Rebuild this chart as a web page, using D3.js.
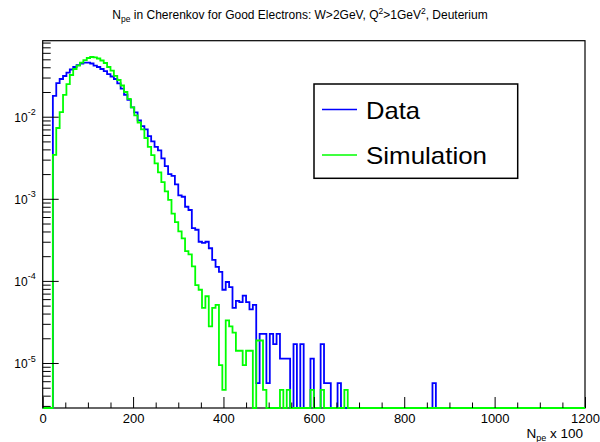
<!DOCTYPE html>
<html>
<head>
<meta charset="utf-8">
<script src="https://cdn.jsdelivr.net/npm/d3@7"></script>
<style>
  body { margin: 0; background: #fff; }
  svg { display: block; }
  text { font-family: "Liberation Sans", Arial, Helvetica, sans-serif; fill: #000; }
</style>
</head>
<body>
<svg id="chart" width="600" height="442"></svg>
<script>
// Histogram binning: 160 bins over 0..1200 (N_pe x 100)
const xRange = [0, 1200];
const binWidth = 7.5;
const nBins = 160;
const firstBin = 3;            // index of the first filled bin

// Normalised bin contents, starting at bin `firstBin`
const dataValues = [
  0.0179, 0.0257, 0.0288, 0.0313, 0.0345, 0.0376, 0.0403, 0.0426, 0.0445, 0.0457,
  0.0455, 0.0445, 0.0420, 0.0403, 0.0381, 0.0360, 0.0331, 0.0309, 0.0288, 0.0255,
  0.0220, 0.0185, 0.0160, 0.0130, 0.0113, 0.0090, 0.0077, 0.0070, 0.0058, 0.0050,
  0.0043, 0.0039, 0.0031, 0.0025, 0.0020, 0.0019, 0.0015, 0.0011, 0.00106, 0.00080,
  0.00073, 0.00044, 0.00042, 0.00030, 0.00029, 0.00030, 0.00025, 0.000180, 0.000148, 0.000129,
  7.8e-5, 9.7e-5, 8.4e-5, 4.7e-5, 5.7e-5, 5.5e-5, 6.6e-5, 5.5e-5, 4.5e-5, 5.1e-5,
  5.7e-6, 2.26e-5, 2.26e-5, 5.7e-6, 2.26e-5, 1.70e-5, 2.26e-5, 1.13e-5, 1.13e-5, 1.13e-5,
  0, 1.70e-5, 0, 1.70e-5, 0, 0, 1.13e-5, 0, 0, 1.70e-5,
  5.7e-6, 5.7e-6, 0, 0, 5.7e-6, 0, 0, 0, 0, 0,
  0, 0, 0, 0, 0, 0, 0, 0, 0, 0,
  0, 0, 0, 0, 0, 0, 0, 0, 0, 0,
  0, 0, 5.7e-6
];

const simValues = [
  0.00342, 0.00729, 0.0114, 0.0184, 0.0250, 0.0322, 0.0381, 0.0420, 0.0457, 0.0490,
  0.0519, 0.0534, 0.0529, 0.0512, 0.0484, 0.0451, 0.0403, 0.0365, 0.0315, 0.0280,
  0.0240, 0.0200, 0.0165, 0.0130, 0.0104, 0.0085, 0.0070, 0.0055, 0.0043, 0.0034,
  0.0027, 0.0021, 0.0016, 0.00123, 0.00097, 0.00066, 0.00052, 0.00040, 0.00033, 0.00023,
  0.00021, 0.000150, 8.9e-5, 7.8e-5, 4.7e-5, 6.5e-5, 2.8e-5, 4.7e-5, 5.1e-5, 9.4e-6,
  4.7e-6, 3.3e-5, 2.8e-5, 2.35e-5, 1.41e-5, 1.41e-5, 9.4e-6, 1.41e-5, 1.41e-5, 0,
  1.88e-5, 1.88e-5, 4.7e-6, 0, 0, 0, 0, 4.7e-6, 0, 4.7e-6,
  0, 0, 0, 0, 0, 0, 4.7e-6, 0, 0, 4.7e-6,
  0, 0, 0, 0, 0, 0, 4.7e-6
];

const seriesNames = ["Data", "Simulation"];
const seriesColors = ["#0000ff", "#00ff00"];

const xMajorTicks = [0, 200, 400, 600, 800, 1000, 1200];
const yDecades = [-5, -4, -3, -2];
const yDomain = [2.83e-6, 0.0843];

// ---- layout ----
const svg = d3.select("#chart");
const frame = { left: 42.7, right: 585, top: 40.7, bottom: 408 };

const x = d3.scaleLinear().domain(xRange).range([frame.left, frame.right]);
const y = d3.scaleLog().domain(yDomain).range([frame.bottom, frame.top]).clamp(true);

svg.append("defs").append("clipPath").attr("id", "plotClip")
  .append("rect")
  .attr("x", frame.left).attr("y", frame.top - 1)
  .attr("width", frame.right - frame.left).attr("height", frame.bottom - frame.top + 2);

// ---- frame ----
svg.append("rect")
  .attr("x", frame.left).attr("y", frame.top)
  .attr("width", frame.right - frame.left).attr("height", frame.bottom - frame.top)
  .attr("fill", "none").attr("stroke", "#000").attr("stroke-width", 1.2);

// ---- histograms (drawn over the frame, ticks on top) ----
function stepPoints(values) {
  const pts = [];
  for (let i = 0; i < nBins; i++) {
    const k = i - firstBin;
    const v = (k >= 0 && k < values.length) ? values[k] : 0;
    pts.push([i * binWidth, v], [(i + 1) * binWidth, v]);
  }
  return pts;
}
const histLine = d3.line()
  .x(d => x(d[0]))
  .y(d => y(Math.max(d[1], yDomain[0])));

const plot = svg.append("g").attr("clip-path", "url(#plotClip)");
[dataValues, simValues].forEach((vals, s) => {
  plot.append("path")
    .attr("d", histLine(stepPoints(vals)))
    .attr("fill", "none")
    .attr("stroke", seriesColors[s])
    .attr("stroke-width", 1.8)
    .attr("stroke-linejoin", "miter");
});

// ---- axes ----
const xMinor = d3.range(0, 1201, 50).filter(v => !xMajorTicks.includes(v));
svg.append("g").attr("transform", `translate(0,${frame.bottom})`)
  .call(d3.axisBottom(x).tickValues(xMinor).tickSize(-5.5).tickFormat(""))
  .call(g => g.select(".domain").remove())
  .call(g => g.selectAll("line").attr("stroke", "#000"));

svg.append("g").attr("transform", `translate(0,${frame.bottom})`)
  .call(d3.axisBottom(x).tickValues(xMajorTicks).tickSize(-11).tickPadding(5.3).tickFormat(d3.format("d")))
  .call(g => g.select(".domain").remove())
  .call(g => g.selectAll("line").attr("stroke", "#000"))
  .call(g => g.selectAll("text").attr("font-size", 13).attr("font-family", "Liberation Sans, Arial, sans-serif"));

const yMinor = [];
for (let e = -6; e <= -2; e++) {
  for (let m = 2; m <= 9; m++) {
    const v = m * Math.pow(10, e);
    if (v >= yDomain[0] && v <= yDomain[1]) yMinor.push(v);
  }
}
svg.append("g").attr("transform", `translate(${frame.left},0)`)
  .call(d3.axisLeft(y).tickValues(yMinor).tickSize(-8).tickFormat(""))
  .call(g => g.select(".domain").remove())
  .call(g => g.selectAll("line").attr("stroke", "#000"));

const yMajor = yDecades.map(e => Math.pow(10, e));
const yAxisG = svg.append("g").attr("transform", `translate(${frame.left},0)`)
  .call(d3.axisLeft(y).tickValues(yMajor).tickSize(-16).tickPadding(7).tickFormat(""))
  .call(g => g.select(".domain").remove())
  .call(g => g.selectAll("line").attr("stroke", "#000"));

yAxisG.selectAll(".tick text").each(function (d) {
  const t = d3.select(this).attr("font-size", 12).attr("dy", "0.4em");
  t.append("tspan").text("10");
  t.append("tspan").attr("font-size", 9).attr("dy", "-0.75em").text("-" + Math.abs(Math.round(Math.log10(d))));
});

// ---- title ----
const title = svg.append("text")
  .attr("x", 300).attr("y", 19).attr("text-anchor", "middle").attr("font-size", 12);
title.append("tspan").text("N");
title.append("tspan").attr("font-size", 8.5).attr("dy", 3).text("pe");
title.append("tspan").attr("dy", -3).text(" in Cherenkov for Good Electrons: W>2GeV, Q");
title.append("tspan").attr("font-size", 8.5).attr("dy", -5).text("2");
title.append("tspan").attr("dy", 5).text(">1GeV");
title.append("tspan").attr("font-size", 8.5).attr("dy", -5).text("2");
title.append("tspan").attr("dy", 5).text(", Deuterium");

// ---- x-axis title ----
const xTitle = svg.append("text")
  .attr("x", 583).attr("y", 438).attr("text-anchor", "end").attr("font-size", 13.5);
xTitle.append("tspan").text("N");
xTitle.append("tspan").attr("font-size", 9).attr("dy", 3).text("pe");
xTitle.append("tspan").attr("dy", -3).text(" x 100");

// ---- legend ----
const legend = svg.append("g");
legend.append("rect")
  .attr("x", 314).attr("y", 84).attr("width", 203.7).attr("height", 94.3)
  .attr("fill", "#fff").attr("stroke", "#000").attr("stroke-width", 1.5);
const legendRows = [109.5, 155];
const legendTextWidths = [54, 121];
seriesNames.forEach((name, s) => {
  legend.append("line")
    .attr("x1", 322).attr("x2", 357)
    .attr("y1", legendRows[s]).attr("y2", legendRows[s])
    .attr("stroke", seriesColors[s]).attr("stroke-width", 1.5);
  legend.append("text")
    .attr("x", 366).attr("y", legendRows[s] + 9)
    .attr("font-size", 24)
    .attr("textLength", legendTextWidths[s])
    .attr("lengthAdjust", "spacingAndGlyphs")
    .text(name);
});
</script>
</body>
</html>
